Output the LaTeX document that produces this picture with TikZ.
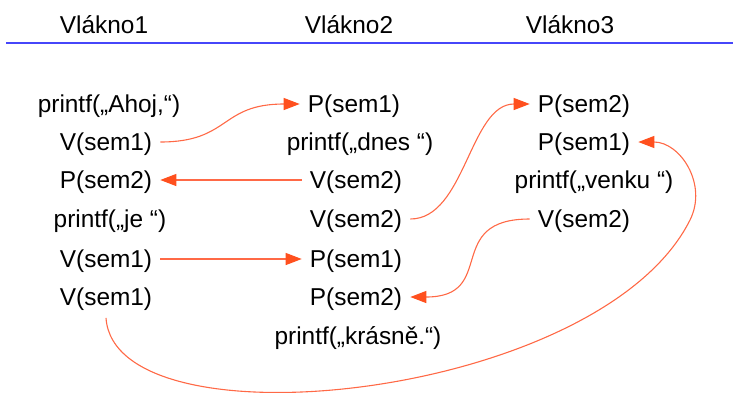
\documentclass[tikz,border=0pt]{standalone}
\usepackage{fontspec}
\setmainfont{Liberation Sans}
\usetikzlibrary{arrows.meta}
\definecolor{sigline}{RGB}{255,105,70}
\definecolor{sighead}{RGB}{255,80,30}
\definecolor{rule}{RGB}{70,70,250}
\tikzset{
  stmt/.style={font=\fontsize{24.4pt}{28pt}\selectfont, text height=17.5pt, text depth=0pt,
    inner ysep=0pt, inner xsep=8pt, anchor=center},
  head/.style={stmt},
  sync/.style={draw=sigline, line width=1.1pt,
    -{Triangle[length=16pt,width=12pt,color=sighead]}},
}
\begin{document}
\begin{tikzpicture}[x=1pt,y=-1pt]
\useasboundingbox (0,0) rectangle (733,392);
% thread headers
\node[head] (h1) at (104,25) {Vlákno1};
\node[head] (h2) at (349,25) {Vlákno2};
\node[head] (h3) at (570,25) {Vlákno3};
\coordinate (rl) at (6,43);
\coordinate (rr) at (733,43);
\draw[rule, line width=1.3pt] (rl) -- (rr);
% thread 1
\node[stmt] (a1) at (109,104) {printf(„Ahoj,“)};
\node[stmt] (a2) at (106,142) {V(sem1)};
\node[stmt] (a3) at (106,180) {P(sem2)};
\node[stmt] (a4) at (110,219) {printf(„je “)};
\node[stmt] (a5) at (106,259) {V(sem1)};
\node[stmt] (a6) at (106,297) {V(sem1)};
% thread 2
\node[stmt] (b1) at (354,104) {P(sem1)};
\node[stmt] (b2) at (360,142) {printf(„dnes “)};
\node[stmt] (b3) at (356,180) {V(sem2)};
\node[stmt] (b4) at (356,219) {V(sem2)};
\node[stmt] (b5) at (356,259) {P(sem1)};
\node[stmt] (b6) at (356,297) {P(sem2)};
\node[stmt] (b7) at (358,336) {printf(„krásně.“)};
% thread 3
\node[stmt] (c1) at (584,104) {P(sem2)};
\node[stmt] (c2) at (584,142) {P(sem1)};
\node[stmt] (c3) at (594,180) {printf(„venku “)};
\node[stmt] (c4) at (584,219) {V(sem2)};
% semaphore hand-offs
\draw[sync] (a2.east) .. controls +(70,0) and +(-80,0) .. (b1.west);
\draw[sync] (b3.west) -- (a3.east);
\draw[sync] (b4.east) .. controls +(55,0) and +(-60,0) .. (c1.west);
\draw[sync] (c4.west) .. controls +(-87,0) and +(88,0) .. (b6.east);
\draw[sync] (a5.east) -- (b5.west);
\draw[sync] ([yshift=-12pt]a6.south) .. controls (115,450) and (600,400) .. (690,220)
  .. controls (708,184) and (680,142) .. (c2.east);
\end{tikzpicture}
\end{document}
